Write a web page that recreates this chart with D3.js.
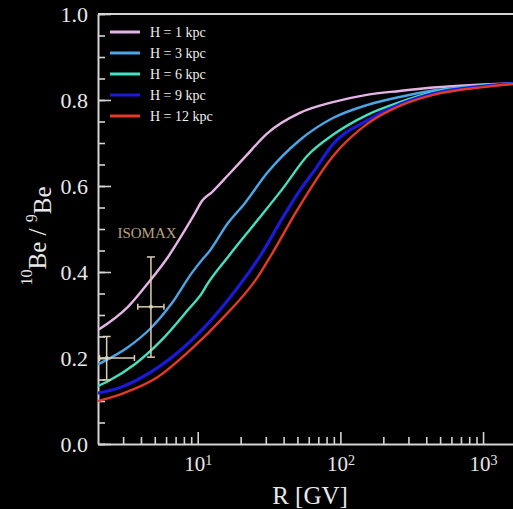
<!DOCTYPE html>
<html>
<head>
<meta charset="utf-8">
<script src="https://cdn.jsdelivr.net/npm/d3@7"></script>
<style>
  html, body { margin: 0; padding: 0; background: #000; overflow: hidden; }
  text { font-family: "Liberation Serif", "DejaVu Serif", serif; }
</style>
</head>
<body>
<div id="chart"></div>
<script>
// rigidity values R [GV] and the 10Be/9Be ratio for each halo height
var rH1  = [2, 3.24, 4.48, 6.19, 8.15, 9.57, 10.7, 12.6, 16.3, 21.4, 30.6, 52, 88.6, 153, 261, 447, 1000, 2000];
var vH1  = [0.265, 0.319, 0.374, 0.435, 0.498, 0.537, 0.565, 0.586, 0.625, 0.667, 0.722, 0.77, 0.795, 0.812, 0.821, 0.829, 0.836, 0.84];
var rH3  = [2, 3.24, 4.64, 6.6, 9.1, 10.7, 11.8, 16.3, 21.4, 30.6, 52, 88.6, 153, 261, 447, 1000, 2000];
var vH3  = [0.185, 0.225, 0.268, 0.328, 0.398, 0.428, 0.444, 0.514, 0.56, 0.63, 0.707, 0.758, 0.788, 0.807, 0.822, 0.834, 0.84];
var rH6  = [2, 2.35, 3.64, 5.6, 8.55, 10.7, 11.8, 16.3, 25.3, 38.8, 59.3, 88.6, 153, 261, 447, 1000, 2000];
var vH6  = [0.135, 0.146, 0.186, 0.242, 0.312, 0.351, 0.374, 0.435, 0.514, 0.591, 0.672, 0.719, 0.765, 0.795, 0.818, 0.833, 0.84];
var rH9  = [2, 3, 3.81, 5.6, 9.57, 16.3, 28.2, 40, 52, 66.4, 88.6, 153, 261, 447, 1000, 2000];
var vH9  = [0.118, 0.134, 0.15, 0.184, 0.249, 0.335, 0.444, 0.53, 0.59, 0.638, 0.697, 0.752, 0.79, 0.815, 0.832, 0.84];
var rH12 = [2, 3, 5.25, 8.9, 15.2, 26.3, 33.4, 50, 89, 155, 263, 447, 1000, 2000];
var vH12 = [0.10, 0.118, 0.156, 0.219, 0.295, 0.388, 0.444, 0.545, 0.67, 0.745, 0.787, 0.812, 0.83, 0.84];

var seriesNames = ["H = 1 kpc", "H = 3 kpc", "H = 6 kpc", "H = 9 kpc", "H = 12 kpc"];
var seriesColors = ["#e6b3e6", "#4aa6e6", "#45e0c0", "#1a1ad8", "#e53a22"];

// ISOMAX points: R, ratio, R low/high, ratio low/high
var isoR    = [2.3, 4.7];
var isoV    = [0.2, 0.319];
var isoRlo  = [2.05, 3.8];
var isoRhi  = [3.6, 5.8];
var isoVlo  = [0.149, 0.202];
var isoVhi  = [0.25, 0.435];

var yTicks = [0, 0.2, 0.4, 0.6, 0.8, 1.0];
var xTicks = [10, 100, 1000];

var width = 513, height = 509;
var plotL = 98, plotT = 14, plotB = 444, plotR = 526;

var svg = d3.select("#chart").append("svg")
    .attr("width", width)
    .attr("height", height)
    .style("background", "#000");

var x = d3.scaleLog().domain([2, 2000]).range([plotL, plotR]);
var y = d3.scaleLinear().domain([0, 1]).range([plotB, plotT]);

var axisColor = "#d4d4d4";

// minor ticks first
var yMinor = d3.range(0, 1.0001, 0.05);
svg.append("g")
    .attr("transform", "translate(" + plotL + ",0)")
    .call(d3.axisLeft(y).tickValues(yMinor).tickSize(-7).tickSizeOuter(0).tickFormat(""))
    .call(g => g.select(".domain").remove());

var xMinor = [];
[1, 10, 100, 1000].forEach(function (d) {
  for (var k = 2; k <= 9; k++) { if (d * k > 2 && d * k < 2000) xMinor.push(d * k); }
});
svg.append("g")
    .attr("transform", "translate(0," + plotB + ")")
    .call(d3.axisBottom(x).tickValues(xMinor).tickSize(-7).tickSizeOuter(0).tickFormat(""))
    .call(g => g.select(".domain").remove());

// major y axis
var gY = svg.append("g")
    .attr("transform", "translate(" + plotL + ",0)")
    .call(d3.axisLeft(y).tickValues(yTicks).tickSize(-13).tickSizeOuter(0)
      .tickPadding(10).tickFormat(d3.format(".1f")));
gY.selectAll("text").attr("font-size", 22).attr("fill", "#e8e8e8")
    .attr("font-family", "Liberation Serif, serif");

// major x axis
var gX = svg.append("g")
    .attr("transform", "translate(0," + plotB + ")")
    .call(d3.axisBottom(x).tickValues(xTicks).tickSize(-12).tickSizeOuter(0)
      .tickPadding(12).tickFormat(""));
gX.selectAll(".tick text").each(function (d) {
  var t = d3.select(this).attr("font-size", 21).attr("fill", "#e8e8e8")
      .attr("font-family", "Liberation Serif, serif");
  t.append("tspan").text("10");
  t.append("tspan").attr("dy", "-0.45em").attr("font-size", 14).text(Math.round(Math.log10(d)));
});

svg.selectAll(".domain, .tick line").attr("stroke", axisColor).attr("stroke-width", 1.6);
svg.selectAll(".domain").attr("stroke-width", 2);

// top frame
svg.append("line")
    .attr("x1", plotL).attr("x2", width)
    .attr("y1", y(1)).attr("y2", y(1))
    .attr("stroke", axisColor).attr("stroke-width", 2);

// curves
var line = d3.line()
    .x(d => x(d[0]))
    .y(d => y(d[1]))
    .curve(d3.curveMonotoneX);

var allR = [rH1, rH3, rH6, rH9, rH12];
var allV = [vH1, vH3, vH6, vH9, vH12];

svg.append("defs").append("clipPath").attr("id", "plotclip")
  .append("rect").attr("x", plotL).attr("y", plotT).attr("width", plotR - plotL).attr("height", plotB - plotT);

var curves = svg.append("g").attr("clip-path", "url(#plotclip)");
allR.forEach(function (rs, i) {
  var pts = rs.map((r, j) => [r, allV[i][j]]);
  curves.append("path")
      .datum(pts)
      .attr("d", line)
      .attr("fill", "none")
      .attr("stroke", seriesColors[i])
      .attr("stroke-width", i === 3 ? 3.2 : 2.4);
});

// ISOMAX data
var errColor = "#dccfb4";
var iso = svg.append("g");
isoR.forEach(function (r, i) {
  iso.append("line").attr("x1", x(r)).attr("x2", x(r))
      .attr("y1", y(isoVlo[i])).attr("y2", y(isoVhi[i]))
      .attr("stroke", errColor).attr("stroke-width", 1.5);
  iso.append("line").attr("x1", x(isoRlo[i])).attr("x2", x(isoRhi[i]))
      .attr("y1", y(isoV[i])).attr("y2", y(isoV[i]))
      .attr("stroke", errColor).attr("stroke-width", 1.5);
  [isoVlo[i], isoVhi[i]].forEach(function (v) {
    iso.append("line").attr("x1", x(r) - 4).attr("x2", x(r) + 4)
        .attr("y1", y(v)).attr("y2", y(v))
        .attr("stroke", errColor).attr("stroke-width", 1.5);
  });
  [isoRlo[i], isoRhi[i]].forEach(function (rr) {
    iso.append("line").attr("x1", x(rr)).attr("x2", x(rr))
        .attr("y1", y(isoV[i]) - 3).attr("y2", y(isoV[i]) + 3)
        .attr("stroke", errColor).attr("stroke-width", 1.5);
  });
  iso.append("circle").attr("cx", x(r)).attr("cy", y(isoV[i])).attr("r", 2)
      .attr("fill", errColor);
});

svg.append("text")
    .attr("x", 147).attr("y", 238)
    .attr("text-anchor", "middle")
    .attr("font-size", 15)
    .attr("fill", "#b8a284")
    .text("ISOMAX");

// legend
var legend = svg.append("g").attr("transform", "translate(110,32)");
seriesNames.forEach(function (name, i) {
  var row = legend.append("g").attr("transform", "translate(0," + (i * 21) + ")");
  row.append("line").attr("x1", 0).attr("x2", 30).attr("y1", 0).attr("y2", 0)
      .attr("stroke", seriesColors[i]).attr("stroke-width", 3);
  row.append("text").attr("x", 40).attr("y", 5)
      .attr("font-size", 14).attr("fill", "#f0f0f0").text(name);
});

// axis titles
svg.append("text")
    .attr("x", 310).attr("y", 504)
    .attr("text-anchor", "middle")
    .attr("font-size", 25)
    .attr("fill", "#e8e8e8")
    .text("R [GV]");

var yl = svg.append("text")
    .attr("transform", "translate(41,236) rotate(-90)")
    .attr("text-anchor", "middle")
    .attr("font-size", 25)
    .attr("fill", "#e8e8e8");
yl.append("tspan").attr("font-size", 16).attr("dy", "-0.55em").text("10");
yl.append("tspan").attr("dy", "0.55em").text("Be / ");
yl.append("tspan").attr("font-size", 16).attr("dy", "-0.55em").text("9");
yl.append("tspan").attr("dy", "0.55em").text("Be");
</script>
</body>
</html>
